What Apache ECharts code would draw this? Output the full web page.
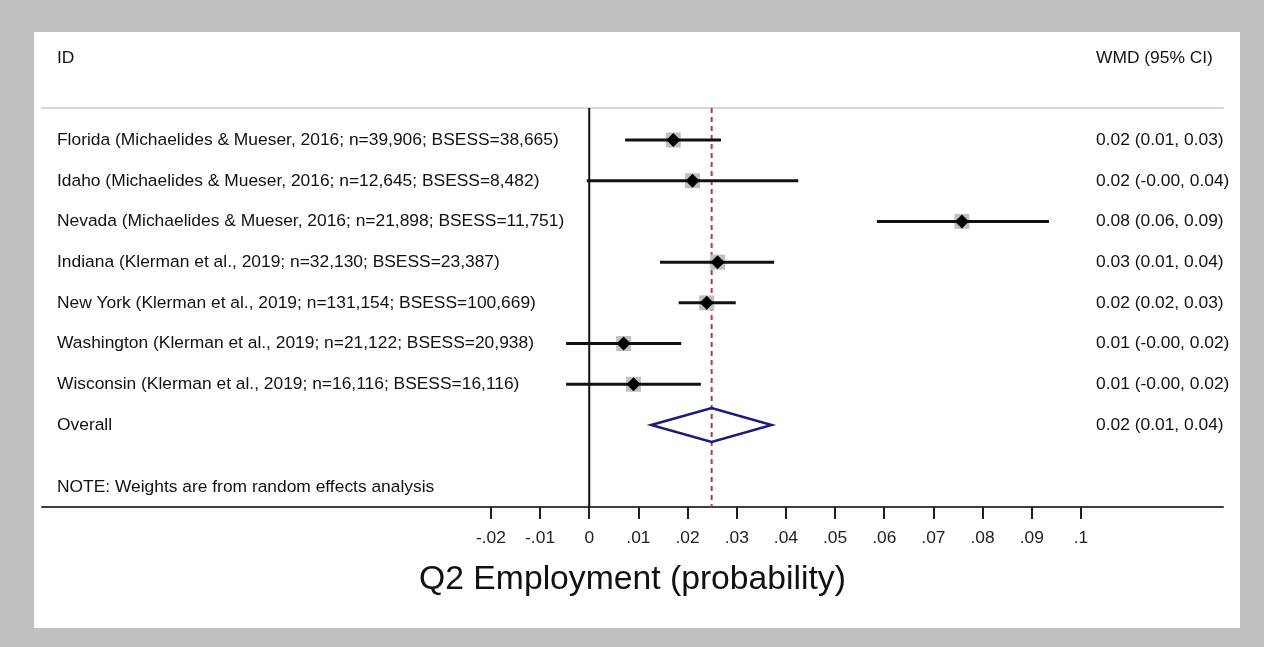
<!DOCTYPE html>
<html>
<head>
<meta charset="utf-8">
<script src="https://cdn.jsdelivr.net/npm/echarts@6/dist/echarts.min.js"></script>
<style>
  html, body { margin: 0; padding: 0; background: #c0c0c0; }
  #chart { width: 1264px; height: 647px; }
</style>
</head>
<body>
<div id="chart"></div>
<script>
// study rows, top to bottom
const studies = [
  "Florida (Michaelides & Mueser, 2016; n=39,906; BSESS=38,665)",
  "Idaho (Michaelides & Mueser, 2016; n=12,645; BSESS=8,482)",
  "Nevada (Michaelides & Mueser, 2016; n=21,898; BSESS=11,751)",
  "Indiana (Klerman et al., 2019; n=32,130; BSESS=23,387)",
  "New York (Klerman et al., 2019; n=131,154; BSESS=100,669)",
  "Washington (Klerman et al., 2019; n=21,122; BSESS=20,938)",
  "Wisconsin (Klerman et al., 2019; n=16,116; BSESS=16,116)"
];
const estimates = [0.0171, 0.0210, 0.0758, 0.0261, 0.0239, 0.0070, 0.0090];
const lower = [0.0073, -0.0005, 0.0585, 0.0144, 0.0182, -0.0047, -0.0047];
const upper = [0.0268, 0.0425, 0.0935, 0.0376, 0.0298, 0.0187, 0.0227];
const ciLabels = [
  "0.02 (0.01, 0.03)",
  "0.02 (-0.00, 0.04)",
  "0.08 (0.06, 0.09)",
  "0.03 (0.01, 0.04)",
  "0.02 (0.02, 0.03)",
  "0.01 (-0.00, 0.02)",
  "0.01 (-0.00, 0.02)"
];
const overallName = "Overall";
const overallEst = 0.0249;
const overallLo = 0.0126;
const overallHi = 0.0371;
const overallLabel = "0.02 (0.01, 0.04)";
const tickValues = [-0.02, -0.01, 0, 0.01, 0.02, 0.03, 0.04, 0.05, 0.06, 0.07, 0.08, 0.09, 0.1];

const FONT = '"Liberation Sans", Arial, sans-serif';
const FS = 17.4;
const TEXT = "#111";

function stataTick(v) {
  if (v === 0) return "0";
  const s = String(Math.abs(+v.toFixed(2))).replace(/^0/, "");
  return (v < 0 ? "-" : "") + s;
}

function txt(text, x, y) {
  return { type: "text", x: x, y: y, style: { text: text, font: FS + "px " + FONT, fill: TEXT, verticalAlign: "middle" } };
}

const studyData = studies.map((s, i) => [estimates[i], lower[i], upper[i], i]);
const overallRow = studies.length;
// null line at 0 (solid) and overall estimate (dashed)
const refLines = [[0, 0], [overallEst, 1]];

const chart = echarts.init(document.getElementById("chart"));

const option = {
  backgroundColor: "#c0c0c0",
  animation: false,
  textStyle: { fontFamily: FONT },
  grid: { left: 42, right: 41, top: 108, bottom: 140 },
  graphic: [
    { type: "rect", z: -10, shape: { x: 34, y: 32, width: 1206, height: 596 }, style: { fill: "#ffffff" } },
    txt("ID", 57, 58),
    txt("WMD (95% CI)", 1096, 58),
    txt("NOTE: Weights are from random effects analysis", 57, 487)
  ],
  xAxis: [
    {
      type: "value",
      position: "bottom",
      min: -0.1113,
      max: 0.1289,
      splitLine: { show: false },
      axisLine: { onZero: false, lineStyle: { color: "#404040", width: 2 } },
      axisTick: { show: true, customValues: tickValues, length: 12, lineStyle: { color: "#202020", width: 2 } },
      axisLabel: { customValues: tickValues, formatter: stataTick, margin: 23, fontSize: FS, color: "#222" },
      name: "Q2 Employment (probability)",
      nameLocation: "middle",
      nameGap: 56,
      nameTextStyle: { fontSize: 33.7, color: "#111" }
    },
    {
      type: "value",
      position: "top",
      min: -0.1113,
      max: 0.1289,
      splitLine: { show: false },
      axisLine: { onZero: false, lineStyle: { color: "#d6d6d6", width: 2 } },
      axisTick: { show: false },
      axisLabel: { show: false }
    }
  ],
  yAxis: {
    type: "value",
    inverse: true,
    min: -0.786,
    max: 9.015,
    show: false
  },
  series: [
    {
      type: "custom",
      clip: false,
      z: 1,
      data: refLines,
      renderItem(params, api) {
        const cs = params.coordSys;
        const x = api.coord([api.value(0), 0])[0];
        const dashed = api.value(1) === 1;
        return {
          type: "line",
          shape: { x1: x, y1: cs.y, x2: x, y2: cs.y + cs.height },
          style: dashed
            ? { stroke: "#a3404f", lineWidth: 2, lineDash: [5, 4] }
            : { stroke: "#111", lineWidth: 2 }
        };
      }
    },
    {
      type: "custom",
      clip: false,
      data: studyData,
      renderItem(params, api) {
        const cs = params.coordSys;
        const row = api.value(3);
        const pe = api.coord([api.value(0), row]);
        const pl = api.coord([api.value(1), row]);
        const ph = api.coord([api.value(2), row]);
        const y = pe[1];
        const d = 7;
        return {
          type: "group",
          children: [
            { type: "rect", shape: { x: pe[0] - 7.5, y: y - 7.5, width: 15, height: 15 }, style: { fill: "#c0c0c0" } },
            { type: "line", shape: { x1: pl[0], y1: y, x2: ph[0], y2: y }, style: { stroke: "#111", lineWidth: 3 } },
            { type: "polygon", shape: { points: [[pe[0] - d, y], [pe[0], y - d], [pe[0] + d, y], [pe[0], y + d]] }, style: { fill: "#000" } },
            txt(studies[params.dataIndex], cs.x + 15, y),
            txt(ciLabels[params.dataIndex], cs.x + cs.width - 127, y)
          ]
        };
      }
    },
    {
      type: "custom",
      clip: false,
      data: [[overallEst, overallLo, overallHi, overallRow]],
      renderItem(params, api) {
        const cs = params.coordSys;
        const row = api.value(3);
        const pe = api.coord([api.value(0), row]);
        const pl = api.coord([api.value(1), row]);
        const ph = api.coord([api.value(2), row]);
        const y = pe[1];
        const h = 17;
        return {
          type: "group",
          children: [
            { type: "polygon", shape: { points: [[pl[0], y], [pe[0], y - h], [ph[0], y], [pe[0], y + h]] }, style: { fill: "none", stroke: "#1b1b7d", lineWidth: 2.5 } },
            txt(overallName, cs.x + 15, y),
            txt(overallLabel, cs.x + cs.width - 127, y)
          ]
        };
      }
    }
  ]
};

chart.setOption(option);
</script>
</body>
</html>
